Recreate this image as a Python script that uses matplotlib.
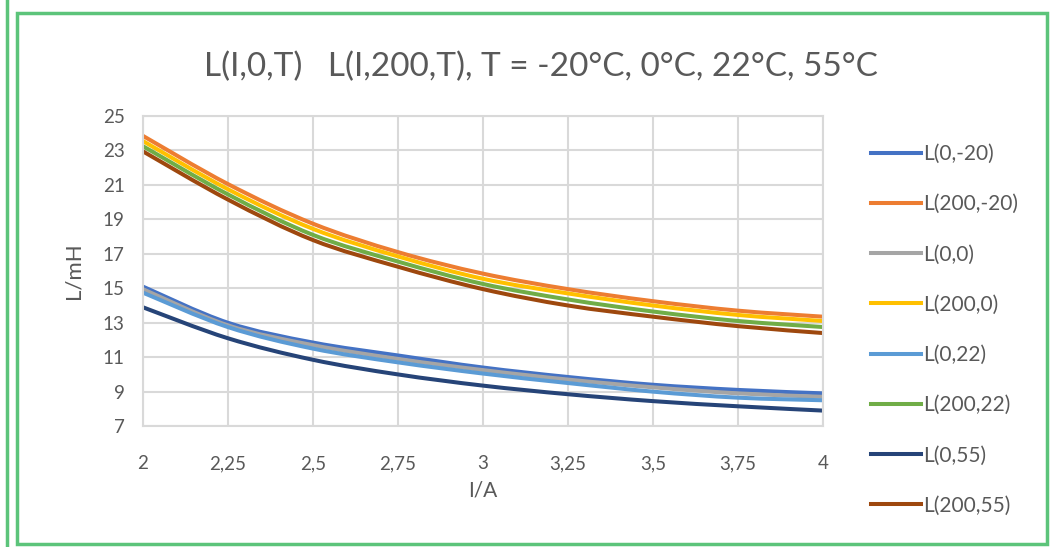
import matplotlib
matplotlib.use("Agg")
from matplotlib import pyplot as plt
from matplotlib.patches import Rectangle, PathPatch
from matplotlib.path import Path
from matplotlib.lines import Line2D

plt.rcParams['font.family'] = ['Lato', 'DejaVu Sans']

# current I/A
current = [2, 2.25, 2.5, 2.75, 3, 3.25, 3.5, 3.75, 4]
x_ticks = [2, 2.25, 2.5, 2.75, 3, 3.25, 3.5, 3.75, 4]
x_tick_labels = ['2', '2,25', '2,5', '2,75', '3', '3,25', '3,5', '3,75', '4']
y_ticks = [7, 9, 11, 13, 15, 17, 19, 21, 23, 25]

# inductance L/mH
L_0_m20 = [15.1, 13.0, 11.85, 11.1, 10.4, 9.85, 9.4, 9.1, 8.9]
L_200_m20 = [23.85, 21.05, 18.75, 17.1, 15.85, 14.95, 14.25, 13.7, 13.35]
L_0_0 = [14.95, 12.85, 11.7, 10.9, 10.25, 9.7, 9.25, 8.9, 8.7]
L_200_0 = [23.55, 20.75, 18.45, 16.85, 15.55, 14.7, 14.0, 13.45, 13.1]
L_0_22 = [14.75, 12.75, 11.5, 10.7, 10.05, 9.5, 9.0, 8.65, 8.5]
L_200_22 = [23.25, 20.45, 18.1, 16.55, 15.25, 14.35, 13.65, 13.1, 12.75]
L_0_55 = [13.9, 12.1, 10.85, 10.0, 9.35, 8.85, 8.45, 8.15, 7.9]
L_200_55 = [22.95, 20.15, 17.8, 16.25, 14.95, 14.0, 13.35, 12.8, 12.4]

labels = ['L(0,-20)', 'L(200,-20)', 'L(0,0)', 'L(200,0)',
          'L(0,22)', 'L(200,22)', 'L(0,55)', 'L(200,55)']
series = [L_0_m20, L_200_m20, L_0_0, L_200_0, L_0_22, L_200_22, L_0_55, L_200_55]
colors = ['#4472C4', '#ED7D31', '#A5A5A5', '#FFC000',
          '#5B9BD5', '#70AD47', '#264478', '#9E480E']

text_col = '#595959'
grid_col = '#d9d9d9'
lw = 2.9


def smooth_path(xs, ys):
    # excel-style smoothed line: bezier segments through every point
    pts = list(zip(xs, ys))
    n = len(pts)
    verts = [pts[0]]
    codes = [Path.MOVETO]
    for i in range(n - 1):
        p0 = pts[max(i - 1, 0)]
        p1 = pts[i]
        p2 = pts[i + 1]
        p3 = pts[min(i + 2, n - 1)]
        c1 = (p1[0] + (p2[0] - p0[0]) / 6, p1[1] + (p2[1] - p0[1]) / 6)
        c2 = (p2[0] - (p3[0] - p1[0]) / 6, p2[1] - (p3[1] - p1[1]) / 6)
        verts += [c1, c2, p2]
        codes += [Path.CURVE4] * 3
    return Path(verts, codes)


fig = plt.figure(figsize=(10.5, 5.47), dpi=100)
ax = fig.add_axes([0.136, 0.221, 0.648, 0.567])

for vals, col in zip(series, colors):
    ax.add_patch(PathPatch(smooth_path(current, vals), fill=False,
                           edgecolor=col, lw=lw, capstyle='butt'))

ax.set_xlim(2, 4)
ax.set_ylim(7, 25)
ax.set_xticks(x_ticks)
ax.set_xticklabels(x_tick_labels)
ax.set_yticks(y_ticks)
ax.grid(True, color=grid_col, lw=1.5)
ax.set_axisbelow(True)
for s in ax.spines.values():
    s.set_color(grid_col)
    s.set_linewidth(1.5)
ax.tick_params(length=0, labelsize=13.5, colors=text_col)
ax.tick_params(axis='x', pad=21)
ax.tick_params(axis='y', pad=13)
ax.set_xlabel('I/A', fontsize=15, color=text_col, labelpad=6)
ax.set_ylabel('L/mH', fontsize=16, color=text_col, labelpad=14)

fig.text(0.515, 0.877, 'L(I,0,T)   L(I,200,T), T = -20°C, 0°C, 22°C, 55°C',
         ha='center', va='center', fontsize=24, color=text_col)

handles = [Line2D([0], [0], color=c, lw=lw) for c in colors]
fig.legend(handles, labels, loc='center left', bbox_to_anchor=(0.812, 0.397),
           frameon=False, fontsize=15, labelcolor=text_col,
           handlelength=2.4, handletextpad=0.1, labelspacing=1.45)

# green frame around the chart
green = '#5cc47a'
fig.add_artist(Rectangle((17 / 1050, 3 / 547), 1030 / 1050, 531 / 547,
                         transform=fig.transFigure, fill=False,
                         edgecolor=green, lw=2.5))
fig.add_artist(Line2D([7 / 1050, 7 / 1050], [0, 1], transform=fig.transFigure,
                      color=green, lw=2.5))

fig.savefig('out.png', dpi=100)
